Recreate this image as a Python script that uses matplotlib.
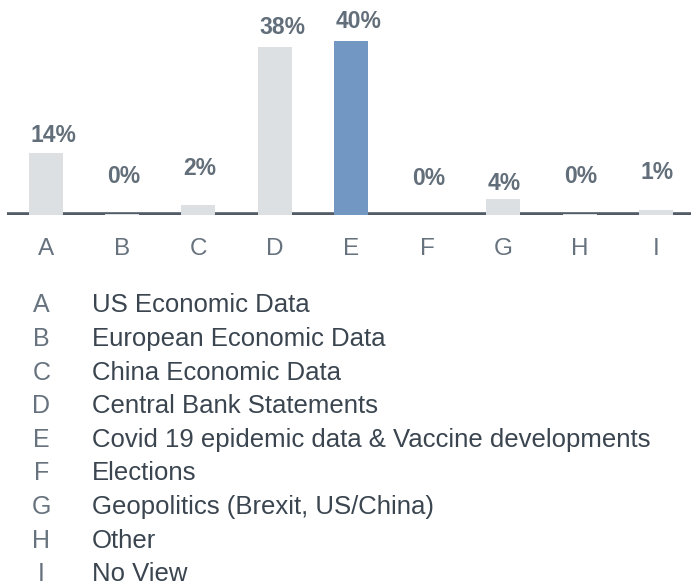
import matplotlib
matplotlib.use("Agg")
import matplotlib.pyplot as plt

plt.rcParams["font.family"] = ["Liberation Sans", "DejaVu Sans"]

# data
codes = ["A", "B", "C", "D", "E", "F", "G", "H", "I"]
values = [14.3, 0.2, 2.2, 38.6, 40.0, 0.0, 3.6, 0.2, 1.1]
value_labels = ["14%", "0%", "2%", "38%", "40%", "0%", "4%", "0%", "1%"]
descriptions = [
    "US Economic Data",
    "European Economic Data",
    "China Economic Data",
    "Central Bank Statements",
    "Covid 19 epidemic data & Vaccine developments",
    "Elections",
    "Geopolitics (Brexit, US/China)",
    "Other",
    "No View",
]
highlight = "E"

# style
GREY_BAR = "#dce0e3"
BLUE_BAR = "#7397c3"
AXIS_COL = "#515c66"
LABEL_COL = "#626e79"
TICK_COL = "#66727d"
TEXT_COL = "#3a4550"
# per-bar label baselines (data units), as placed in the source layout
label_y = [16.8, 7.4, 9.2, 41.6, 43.0, 6.9, 5.7, 7.4, 8.2]

W, H = 691, 588
fig = plt.figure(figsize=(W / 100, H / 100), dpi=100)

px_per_unit = 4.35
base_px = 215
ax = fig.add_axes([7 / W, (H - base_px) / H, 684 / W, base_px / H])
ax.set_xlim(-0.511, 8.459)
ax.set_ylim(0, base_px / px_per_unit)
ax.axis("off")

bar_w = 0.446
x = list(range(len(codes)))
ax.axhline(0.2, color=AXIS_COL, lw=2.6, zorder=1)
bottom = -0.4
colors = [BLUE_BAR if c == highlight else GREY_BAR for c in codes]
for xi, v, col in zip(x, values, colors):
    if v > 0:
        ax.bar(xi, v - bottom, bottom=bottom, width=bar_w, color=col, zorder=2)

for xi, lab, ly in zip(x, value_labels, label_y):
    ax.text(xi - bar_w / 2 + 0.02, ly, lab, ha="left", va="baseline",
            fontsize=16.5, fontweight="bold", color=LABEL_COL, clip_on=False)

for xi, c in zip(x, codes):
    ax.text(xi, -40 / px_per_unit, c, ha="center", va="baseline",
            fontsize=17.5, color=TICK_COL, clip_on=False)

# legend list below the chart
row0 = 312.5
row_step = 33.6
for i, (c, d) in enumerate(zip(codes, descriptions)):
    y = 1 - (row0 + i * row_step) / H
    fig.text(41.5 / W, y, c, ha="center", va="baseline", fontsize=18, color=TICK_COL)
    fig.text(92 / W, y, d, ha="left", va="baseline", fontsize=18.5, color=TEXT_COL)

fig.savefig("out.png", dpi=100)
